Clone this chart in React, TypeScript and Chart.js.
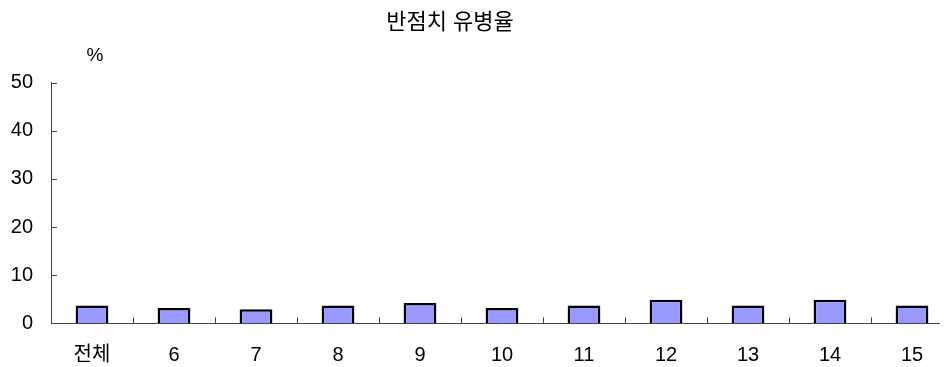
import React, { useEffect, useRef } from "react";
import { Chart, registerables } from "chart.js";

Chart.register(...registerables);

const categories = ["전체", "6", "7", "8", "9", "10", "11", "12", "13", "14", "15"];
const prevalence = [3.7, 3.2, 2.9, 3.7, 4.2, 3.2, 3.7, 4.9, 3.7, 4.9, 3.7];
const titleText = "반점치 유병율";
const unitText = "%";
const yMin = 0;
const yMax = 50;
const yStep = 10;

const FONT = "'Liberation Sans', Arial, 'Noto Sans CJK KR', sans-serif";
const AXIS = "#444444";

const decorPlugin = {
  id: "decor",
  afterDraw(chart: any) {
    const { ctx, chartArea, scales } = chart;
    const x = scales.x;
    const y = scales.y;
    ctx.save();
    ctx.strokeStyle = AXIS;
    ctx.lineWidth = 1;
    ctx.beginPath();
    y.ticks.forEach((t: any, i: number) => {
      const py = Math.round(y.getPixelForTick(i)) + 0.5;
      ctx.moveTo(chartArea.left, py);
      ctx.lineTo(chartArea.left + 6, py);
    });
    const n = categories.length;
    for (let i = 1; i < n; i++) {
      const px = Math.round((x.getPixelForValue(i - 1) + x.getPixelForValue(i)) / 2) + 0.5;
      ctx.moveTo(px, chartArea.bottom);
      ctx.lineTo(px, chartArea.bottom - 6);
    }
    ctx.stroke();
    ctx.fillStyle = "#000";
    ctx.textAlign = "center";
    ctx.textBaseline = "middle";
    ctx.font = `22px ${FONT}`;
    ctx.fillText(titleText, 442, 15);
    ctx.font = `19px ${FONT}`;
    ctx.fillText(unitText, 87, 48);
    ctx.restore();
  },
};

export default function App() {
  const ref = useRef<HTMLCanvasElement | null>(null);
  useEffect(() => {
    if (!ref.current) return;
    const chart = new Chart(ref.current, {
      type: "bar",
      data: {
        labels: categories,
        datasets: [
          {
            data: prevalence,
            backgroundColor: "#9999FF",
            borderColor: "#000000",
            borderWidth: 2.5,
            barPercentage: 0.4,
            categoryPercentage: 1.0,
          },
        ],
      },
      options: {
        animation: false,
        responsive: false,
        maintainAspectRatio: false,
        layout: { padding: { top: 74.7, right: 15, left: 0, bottom: 0 } },
        plugins: {
          legend: { display: false },
          title: { display: false },
          tooltip: { enabled: false },
        },
        scales: {
          x: {
            offset: true,
            grid: { display: false, drawTicks: false },
            border: { display: true, color: AXIS, width: 1 },
            ticks: {
              color: "#000",
              font: { family: FONT, size: 20 },
              padding: 20,
              maxRotation: 0,
              autoSkip: false,
            },
            afterFit: (s: any) => {
              s.height = 43.7;
            },
          },
          y: {
            min: yMin,
            max: yMax,
            grid: { display: false, drawTicks: false },
            border: { display: true, color: AXIS, width: 1 },
            ticks: {
              stepSize: yStep,
              color: "#000",
              font: { family: FONT, size: 20 },
              padding: 18,
            },
            afterFit: (s: any) => {
              s.width = 43;
            },
          },
        },
      },
      plugins: [decorPlugin],
    });
    return () => chart.destroy();
  }, []);
  return (
    <div style={{ position: "relative", width: 940, height: 359, overflow: "hidden" }}>
      <canvas ref={ref} width={960} height={359} style={{ display: "block", width: 960, height: 359 }} />
    </div>
  );
}
